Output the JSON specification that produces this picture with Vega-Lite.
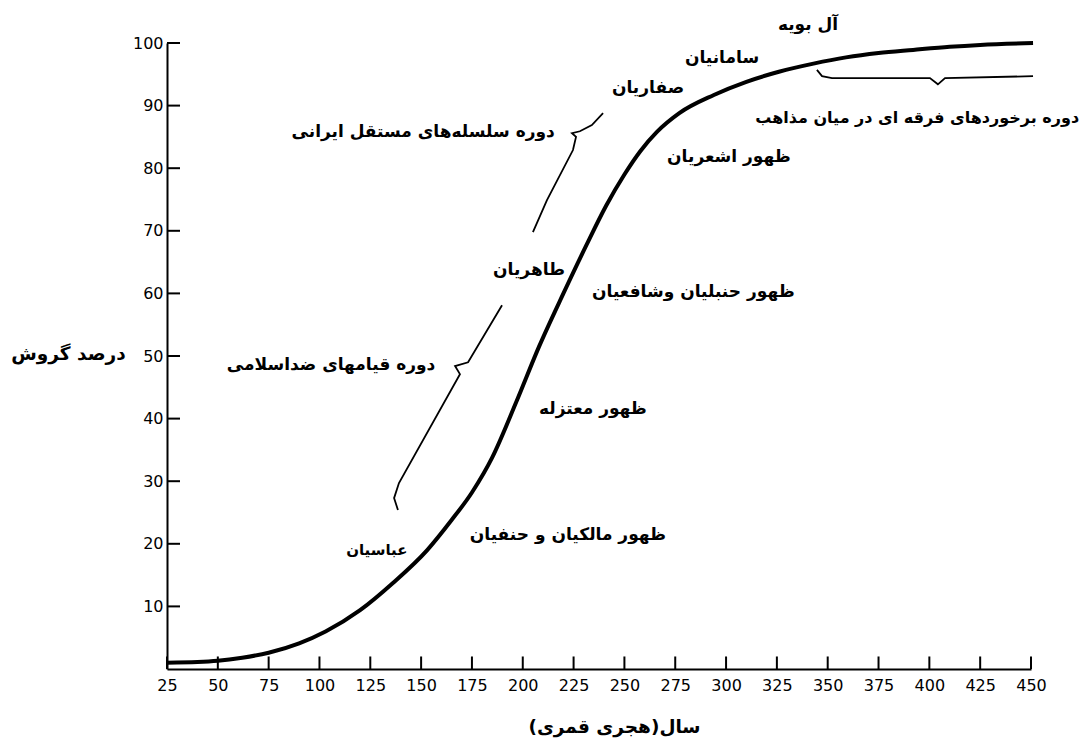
{
  "$schema": "https://vega.github.io/schema/vega-lite/v6.json",
  "autosize": {"type": "none"},
  "padding": {"left": 167, "top": 43, "right": 57, "bottom": 69},
  "width": 864,
  "height": 626,
  "background": "white",
  "config": {
    "view": {"stroke": null},
    "axis": {
      "grid": false,
      "ticks": false,
      "domainColor": "black",
      "domainWidth": 2,
      "labelColor": "black",
      "labelFont": "DejaVu Sans",
      "labelFontSize": 16,
      "titleColor": "black",
      "titleFont": "DejaVu Sans",
      "titleFontSize": 18.5,
      "titleFontWeight": "bold"
    },
    "text": {"font": "DejaVu Sans", "fontWeight": "bold", "color": "black"}
  },
  "datasets": {
    "curve": [
      {"year": 25, "pct": 1.0}, {"year": 40, "pct": 1.1}, {"year": 50, "pct": 1.3},
      {"year": 62, "pct": 1.8}, {"year": 75, "pct": 2.6}, {"year": 90, "pct": 4.1},
      {"year": 103, "pct": 6.0}, {"year": 120, "pct": 9.4}, {"year": 136, "pct": 13.7},
      {"year": 153, "pct": 19.0}, {"year": 165, "pct": 23.8}, {"year": 175, "pct": 28.2},
      {"year": 185, "pct": 33.8}, {"year": 197, "pct": 42.8}, {"year": 208, "pct": 51.5},
      {"year": 220, "pct": 60.0}, {"year": 231, "pct": 67.5}, {"year": 241, "pct": 74.0},
      {"year": 250, "pct": 79.0}, {"year": 258, "pct": 82.8}, {"year": 266, "pct": 85.8},
      {"year": 277, "pct": 88.8}, {"year": 294, "pct": 91.7}, {"year": 310, "pct": 93.8},
      {"year": 326, "pct": 95.4}, {"year": 343, "pct": 96.7}, {"year": 359, "pct": 97.7},
      {"year": 375, "pct": 98.4}, {"year": 392, "pct": 98.9}, {"year": 410, "pct": 99.4},
      {"year": 425, "pct": 99.7}, {"year": 451, "pct": 100.0}
    ],
    "xticks": [
      {"year": 25}, {"year": 50}, {"year": 75}, {"year": 100}, {"year": 125}, {"year": 150},
      {"year": 175}, {"year": 200}, {"year": 225}, {"year": 250}, {"year": 275}, {"year": 300},
      {"year": 325}, {"year": 350}, {"year": 375}, {"year": 400}, {"year": 425}, {"year": 450}
    ],
    "yticks": [
      {"pct": 10}, {"pct": 20}, {"pct": 30}, {"pct": 40}, {"pct": 50},
      {"pct": 60}, {"pct": 70}, {"pct": 80}, {"pct": 90}, {"pct": 100}
    ],
    "braces": [
      {"brace": "b1", "ord": 1, "year": 138.6, "pct": 25.4},
      {"brace": "b1", "ord": 2, "year": 136.7, "pct": 27.3},
      {"brace": "b1", "ord": 3, "year": 139.1, "pct": 29.7},
      {"brace": "b1", "ord": 4, "year": 169.1, "pct": 47.1},
      {"brace": "b1", "ord": 5, "year": 166.7, "pct": 48.4},
      {"brace": "b1", "ord": 6, "year": 173.1, "pct": 49.0},
      {"brace": "b1", "ord": 7, "year": 189.8, "pct": 58.1},
      {"brace": "b2", "ord": 1, "year": 205.0, "pct": 69.8},
      {"brace": "b2", "ord": 2, "year": 211.9, "pct": 74.9},
      {"brace": "b2", "ord": 3, "year": 224.7, "pct": 82.9},
      {"brace": "b2", "ord": 4, "year": 226.2, "pct": 85.0},
      {"brace": "b2", "ord": 5, "year": 224.2, "pct": 85.6},
      {"brace": "b2", "ord": 6, "year": 228.1, "pct": 85.9},
      {"brace": "b2", "ord": 7, "year": 234.0, "pct": 86.9},
      {"brace": "b2", "ord": 8, "year": 239.5, "pct": 88.8},
      {"brace": "b3", "ord": 1, "year": 344.7, "pct": 95.7},
      {"brace": "b3", "ord": 2, "year": 347.2, "pct": 94.7},
      {"brace": "b3", "ord": 3, "year": 352.1, "pct": 94.4},
      {"brace": "b3", "ord": 4, "year": 400.3, "pct": 94.4},
      {"brace": "b3", "ord": 5, "year": 404.2, "pct": 93.4},
      {"brace": "b3", "ord": 6, "year": 407.7, "pct": 94.4},
      {"brace": "b3", "ord": 7, "year": 451.0, "pct": 94.7}
    ],
    "labels": [
      {"label": "آل بویه", "year": 340.3, "pct": 102.9},
      {"label": "سامانیان", "year": 298.0, "pct": 97.6},
      {"label": "صفاریان", "year": 261.6, "pct": 92.8},
      {"label": "دوره سلسله‌های مستقل ایرانی", "year": 151.0, "pct": 85.8},
      {"label": "ظهور اشعریان", "year": 301.4, "pct": 81.8},
      {"label": "طاهریان", "year": 203.1, "pct": 63.7},
      {"label": "ظهور حنبلیان وشافعیان", "year": 283.9, "pct": 60.3},
      {"label": "دوره قیامهای ضداسلامی", "year": 105.7, "pct": 48.6},
      {"label": "ظهور معتزله", "year": 234.5, "pct": 41.6},
      {"label": "ظهور مالکیان و حنفیان", "year": 222.2, "pct": 21.4}
    ],
    "smallLabels": [
      {"label": "عباسیان", "year": 128.2, "pct": 19.0}
    ],
    "wideLabels": [
      {"label": "دوره برخوردهای فرقه ای در میان مذاهب", "year": 394.0, "pct": 88.0}
    ]
  },
  "layer": [
    {
      "data": {"name": "curve"},
      "mark": {"type": "line", "color": "black", "strokeWidth": 4, "interpolate": "monotone"},
      "encoding": {
        "x": {
          "field": "year", "type": "quantitative",
          "scale": {"domain": [25, 450], "nice": false, "zero": false},
          "axis": {
            "values": [25, 50, 75, 100, 125, 150, 175, 200, 225, 250, 275, 300, 325, 350, 375, 400, 425, 450],
            "labelPadding": 8, "labelFlush": false,
            "title": "سال(هجری قمری)", "titleX": 447, "titleY": 57,
            "titleAlign": "center", "titleBaseline": "middle", "titleAnchor": null
          }
        },
        "y": {
          "field": "pct", "type": "quantitative",
          "scale": {"domain": [0, 100], "nice": false},
          "axis": {
            "values": [10, 20, 30, 40, 50, 60, 70, 80, 90, 100],
            "labelPadding": 4,
            "title": "درصد گروش", "titleAngle": 0, "titleX": -99, "titleY": 310,
            "titleAlign": "center", "titleBaseline": "middle"
          }
        }
      }
    },
    {
      "data": {"name": "xticks"},
      "mark": {"type": "rule", "color": "black", "strokeWidth": 2},
      "encoding": {
        "x": {"field": "year", "type": "quantitative"},
        "y": {"datum": 0, "type": "quantitative"},
        "y2": {"datum": 2.0}
      }
    },
    {
      "data": {"name": "yticks"},
      "mark": {"type": "rule", "color": "black", "strokeWidth": 2},
      "encoding": {
        "y": {"field": "pct", "type": "quantitative"},
        "x": {"datum": 25, "type": "quantitative"},
        "x2": {"datum": 31.4}
      }
    },
    {
      "data": {"name": "braces"},
      "mark": {"type": "line", "color": "black", "strokeWidth": 1.8, "interpolate": "linear"},
      "encoding": {
        "x": {"field": "year", "type": "quantitative"},
        "y": {"field": "pct", "type": "quantitative"},
        "detail": {"field": "brace"},
        "order": {"field": "ord", "type": "quantitative"}
      }
    },
    {
      "data": {"name": "labels"},
      "mark": {"type": "text", "fontSize": 17, "align": "center", "baseline": "middle"},
      "encoding": {
        "x": {"field": "year", "type": "quantitative"},
        "y": {"field": "pct", "type": "quantitative"},
        "text": {"field": "label"}
      }
    },
    {
      "data": {"name": "wideLabels"},
      "mark": {"type": "text", "fontSize": 16, "align": "center", "baseline": "middle"},
      "encoding": {
        "x": {"field": "year", "type": "quantitative"},
        "y": {"field": "pct", "type": "quantitative"},
        "text": {"field": "label"}
      }
    },
    {
      "data": {"name": "smallLabels"},
      "mark": {"type": "text", "fontSize": 15, "align": "center", "baseline": "middle"},
      "encoding": {
        "x": {"field": "year", "type": "quantitative"},
        "y": {"field": "pct", "type": "quantitative"},
        "text": {"field": "label"}
      }
    }
  ]
}
